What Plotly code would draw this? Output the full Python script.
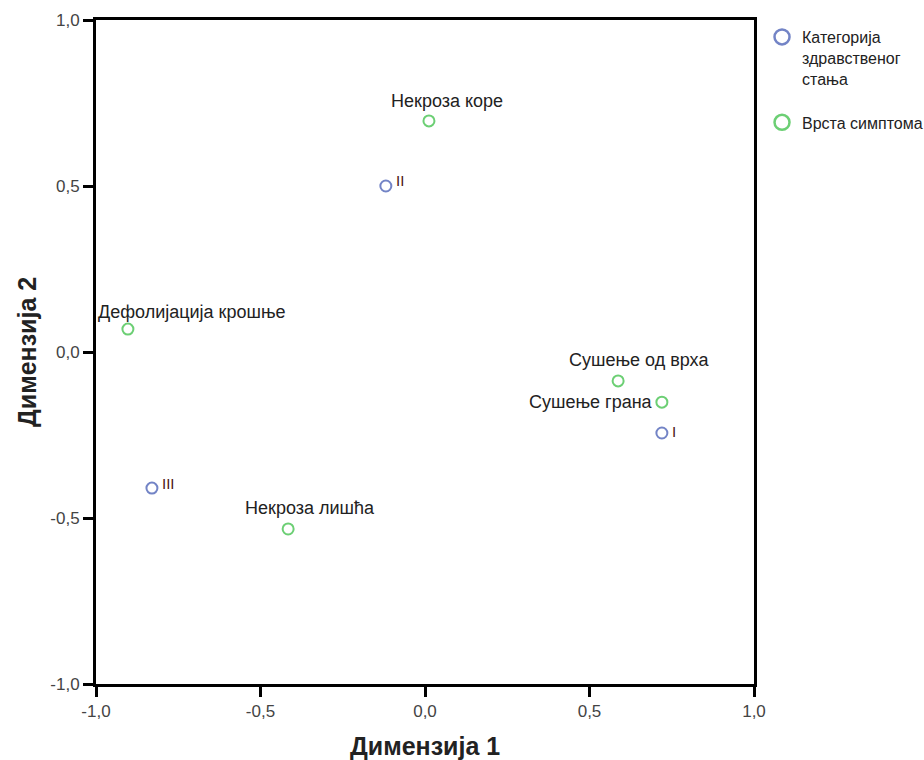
import plotly.graph_objects as go

# Category of health condition (blue)
cat_labels = ["I", "II", "III"]
cat_x = [0.720, -0.119, -0.830]
cat_y = [-0.244, 0.500, -0.410]

# Symptom type (green)
sym_labels = ["Некроза коре", "Дефолијација крошње", "Сушење од врха", "Сушење грана", "Некроза лишћа"]
sym_x = [0.012, -0.903, 0.587, 0.720, -0.416]
sym_y = [0.696, 0.069, -0.087, -0.151, -0.533]

tick_vals = [-1.0, -0.5, 0.0, 0.5, 1.0]
tick_text = ["-1,0", "-0,5", "0,0", "0,5", "1,0"]

legend_names = ["Категорија<br>здравственог<br>стања", "Врста симптома"]
x_title = "Димензија 1"
y_title = "Димензија 2"

BLUE = "#7384c6"
GREEN = "#6ccf74"
FONT = "Liberation Sans, Arial, sans-serif"

fig = go.Figure()

fig.add_trace(go.Scatter(x=cat_x, y=cat_y, mode="markers", showlegend=False,
                         marker=dict(symbol="circle-open", size=11, color=BLUE, line=dict(width=2, color=BLUE))))
fig.add_trace(go.Scatter(x=sym_x, y=sym_y, mode="markers", showlegend=False,
                         marker=dict(symbol="circle-open", size=11, color=GREEN, line=dict(width=2, color=GREEN))))
# legend-only traces
fig.add_trace(go.Scatter(x=[None], y=[None], mode="markers", name=legend_names[0], legendgroup="a",
                         marker=dict(symbol="circle-open", size=15, color=BLUE, line=dict(width=2.5, color=BLUE))))
fig.add_trace(go.Scatter(x=[None], y=[None], mode="markers", name=legend_names[1], legendgroup="b",
                         marker=dict(symbol="circle-open", size=15, color=GREEN, line=dict(width=2.5, color=GREEN))))

# label offsets (pixels): style only
cat_shift = [(8, 2), (8, 6), (8, 5)]
for lbl, x, y, (dx, dy) in zip(cat_labels, cat_x, cat_y, cat_shift):
    fig.add_annotation(x=x, y=y, text=lbl, showarrow=False, xanchor="left", yanchor="middle",
                       xshift=dx, yshift=dy, font=dict(family=FONT, size=15, color="#4a1414"))

sym_shift = [(18, 20, "center"), (64, 17, "center"), (21, 21, "center"), (-7, 0, "right"), (22, 21, "center")]
for lbl, x, y, (dx, dy, xa) in zip(sym_labels, sym_x, sym_y, sym_shift):
    fig.add_annotation(x=x, y=y, text=lbl, showarrow=False, xanchor=xa, yanchor="middle",
                       xshift=dx, yshift=dy, font=dict(family=FONT, size=18, color="#222222"))

fig.add_annotation(xref="paper", yref="paper", x=0.5, y=0, yshift=-62, text="<b>" + x_title + "</b>",
                   showarrow=False, xanchor="center", yanchor="middle",
                   font=dict(family=FONT, size=25, color="#222222"))
fig.add_annotation(xref="paper", yref="paper", x=0, y=0.5, xshift=-69, text="<b>" + y_title + "</b>",
                   showarrow=False, textangle=-90, xanchor="center", yanchor="middle",
                   font=dict(family=FONT, size=25, color="#222222"))

axis_common = dict(range=[-1, 1], tickvals=tick_vals, ticktext=tick_text, showgrid=False, zeroline=False,
                   showline=True, linewidth=3, linecolor="black", mirror=True, ticks="outside",
                   ticklen=10, tickwidth=3, tickcolor="black",
                   tickfont=dict(family=FONT, size=17, color="#444444"))

fig.update_xaxes(**axis_common)
fig.update_yaxes(**axis_common)

fig.update_layout(
    width=924, height=760,
    margin=dict(l=96, r=170, t=20, b=76, autoexpand=False),
    paper_bgcolor="white", plot_bgcolor="white",
    font=dict(family=FONT),
    legend=dict(xref="container", x=0.8247, yref="paper", y=1.0, xanchor="left", yanchor="top",
                valign="top", traceorder="grouped", tracegroupgap=20,
                font=dict(family=FONT, size=16, color="#222222"),
                bgcolor="rgba(0,0,0,0)"),
)

fig.write_html("out.html")
